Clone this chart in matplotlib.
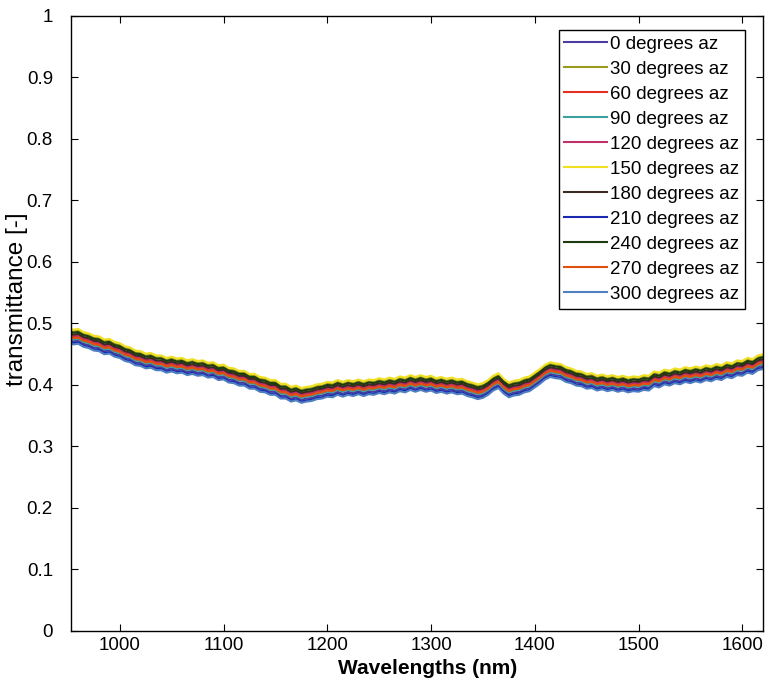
import numpy as np
import matplotlib
matplotlib.use("Agg")
import matplotlib.pyplot as plt

plt.rcParams['font.family'] = ['Liberation Sans', 'DejaVu Sans']

# wavelength grid (nm), 5 nm steps
wavelengths = np.arange(950, 1621, 5)

# mean transmittance (jagged as drawn)
base_trans = [
    0.481, 0.478, 0.479, 0.474, 0.472, 0.468, 0.467, 0.462, 0.463, 0.458,   # 950-995
    0.456, 0.451, 0.449, 0.444, 0.443, 0.439, 0.440, 0.436, 0.436, 0.432,   # 1000-1045
    0.434, 0.431, 0.432, 0.428, 0.430, 0.427, 0.428, 0.424, 0.425, 0.420,   # 1050-1095
    0.421, 0.416, 0.415, 0.411, 0.411, 0.406, 0.406, 0.401, 0.400, 0.396,   # 1100-1145
    0.396, 0.390, 0.390, 0.385, 0.387, 0.383, 0.385, 0.386, 0.389, 0.390,   # 1150-1195
    0.393, 0.392, 0.396, 0.393, 0.396, 0.394, 0.397, 0.394, 0.397, 0.396,   # 1200-1245
    0.399, 0.397, 0.400, 0.398, 0.402, 0.400, 0.404, 0.401, 0.404, 0.401,   # 1250-1295
    0.403, 0.399, 0.401, 0.398, 0.400, 0.397, 0.398, 0.394, 0.392, 0.389,   # 1300-1345
    0.391, 0.396, 0.403, 0.407, 0.398, 0.392, 0.395, 0.396, 0.400, 0.402,   # 1350-1395
    0.408, 0.414, 0.421, 0.425, 0.423, 0.422, 0.417, 0.415, 0.411, 0.410,   # 1400-1445
    0.406, 0.407, 0.403, 0.405, 0.402, 0.404, 0.401, 0.403, 0.400, 0.402,   # 1450-1495
    0.401, 0.404, 0.403, 0.410, 0.408, 0.413, 0.411, 0.415, 0.413, 0.417,   # 1500-1545
    0.415, 0.418, 0.416, 0.420, 0.418, 0.422, 0.420, 0.425, 0.423, 0.428,   # 1550-1595
    0.427, 0.432, 0.430, 0.436, 0.438,                                      # 1600-1620
]

azimuths = [0, 30, 60, 90, 120, 150, 180, 210, 240, 270, 300]
# position of each azimuth within the band (transmittance offset)
az_offsets = [-0.007, 0.009, 0.000, -0.004, 0.002, 0.012, 0.004, -0.010, 0.007, -0.002, -0.012]
az_colors = ['#4b3c9e', '#9a9a1e', '#e03020', '#3aa0a0', '#c0306a', '#f0e020',
             '#3a2a20', '#1a2ab0', '#1e3a10', '#e05010', '#5080c0']

fig = plt.figure(figsize=(7.67, 6.89), dpi=100)
ax = fig.add_axes([0.0926, 0.0842, 0.9022, 0.8926])

base = np.array(base_trans)
for az, off, c in zip(azimuths, az_offsets, az_colors):
    ax.plot(wavelengths, base + off, color=c, linewidth=1.5, label='%d degrees az' % az)

ax.set_xlim(953, 1620)
ax.set_ylim(0, 1)
ax.set_xticks([1000, 1100, 1200, 1300, 1400, 1500, 1600])
ax.set_yticks(np.arange(0, 1.01, 0.1))
ax.set_yticklabels(['0', '0.1', '0.2', '0.3', '0.4', '0.5', '0.6', '0.7', '0.8', '0.9', '1'])
ax.tick_params(direction='in', top=True, right=True, length=5, labelsize=13.5)
ax.tick_params(axis='y', pad=13)
ax.tick_params(axis='x', pad=4)
for s in ax.spines.values():
    s.set_linewidth(1.0)

ax.set_xlabel('Wavelengths (nm)', fontsize=15, fontweight='bold')
ax.xaxis.set_label_coords(0.516, -0.045)
ax.set_ylabel('transmittance [-]', fontsize=17.5)
ax.yaxis.set_label_coords(-0.062, 0.54)

leg = ax.legend(loc='upper right', bbox_to_anchor=(0.974, 0.977), borderaxespad=0,
                fontsize=13.5, fancybox=False, framealpha=1, edgecolor='black',
                handlelength=2.3, handletextpad=0.15, labelspacing=0.42, borderpad=0.3)
leg.get_frame().set_linewidth(1.0)

plt.savefig('out.png', dpi=100)
